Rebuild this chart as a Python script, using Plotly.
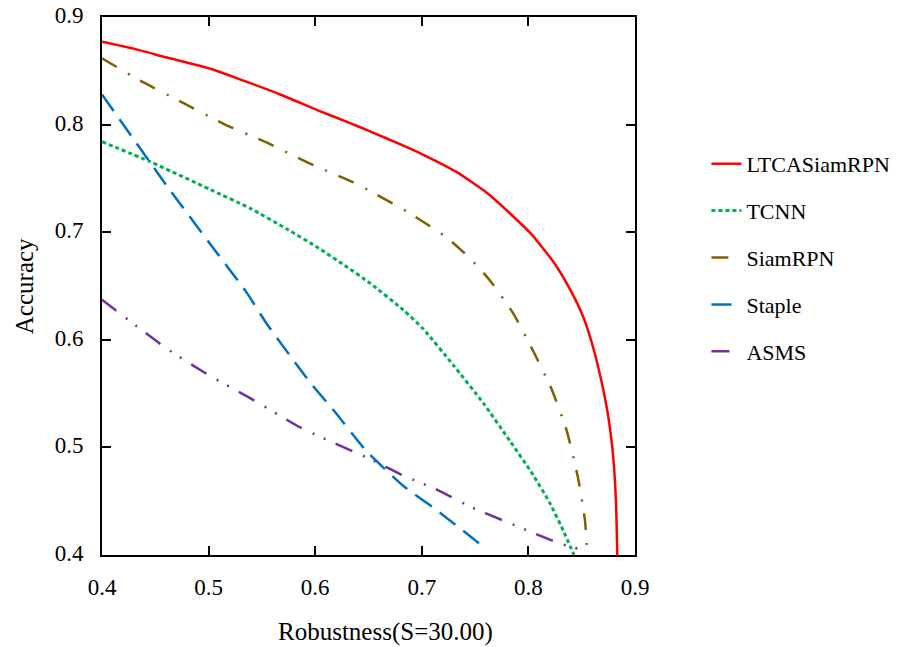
import plotly.graph_objects as go

# Data
ltca_x = [0.4000, 0.4296, 0.4609, 0.5009, 0.5328, 0.5672, 0.6031, 0.6328, 0.6515, 0.6828, 0.7015, 0.7328,
          0.7610, 0.7828, 0.8028, 0.8234, 0.8391, 0.8515, 0.8609, 0.8688, 0.8750, 0.8797, 0.8822, 0.8834]
ltca_y = [0.8771, 0.8706, 0.8623, 0.8521, 0.8408, 0.8280, 0.8130, 0.8014, 0.7937, 0.7804, 0.7719, 0.7558,
          0.7366, 0.7174, 0.6982, 0.6725, 0.6469, 0.6212, 0.5924, 0.5603, 0.5282, 0.4897, 0.4480, 0.4000]

tcnn_x = [0.4000, 0.4453, 0.5009, 0.5390, 0.5734, 0.6031, 0.6297, 0.6515, 0.6828, 0.7015, 0.7297,
          0.7578, 0.7828, 0.8028, 0.8203, 0.8328, 0.8428]
tcnn_y = [0.7841, 0.7655, 0.7399, 0.7222, 0.7030, 0.6853, 0.6677, 0.6526, 0.6276, 0.6099, 0.5763,
          0.5410, 0.5058, 0.4769, 0.4480, 0.4224, 0.4000]

siam_x = [0.4000, 0.4359, 0.4765, 0.5140, 0.5547, 0.5984, 0.6359, 0.6546, 0.6891, 0.7235, 0.7453,
          0.7641, 0.7859, 0.8047, 0.8219, 0.8360, 0.8468, 0.8531, 0.8553]
siam_y = [0.8616, 0.8408, 0.8200, 0.8007, 0.7832, 0.7623, 0.7463, 0.7366, 0.7174, 0.6949, 0.6757,
          0.6549, 0.6244, 0.5891, 0.5539, 0.5154, 0.4705, 0.4320, 0.4000]

staple_x = [0.4000, 0.4609, 0.5009, 0.5359, 0.5547, 0.5953, 0.6171, 0.6485, 0.6828, 0.7141, 0.7594]
staple_y = [0.8280, 0.7430, 0.6898, 0.6436, 0.6147, 0.5603, 0.5347, 0.4961, 0.4641, 0.4416, 0.4064]

asms_x = [0.4000, 0.4609, 0.5009, 0.5390, 0.5859, 0.6359, 0.6515, 0.6828, 0.7141, 0.7453, 0.7765,
          0.8078, 0.8328, 0.8553]
asms_y = [0.6372, 0.5917, 0.5667, 0.5458, 0.5186, 0.4961, 0.4892, 0.4738, 0.4608, 0.4449, 0.4320,
          0.4192, 0.4096, 0.4037]

tick_vals = [0.4, 0.5, 0.6, 0.7, 0.8, 0.9]
tick_text = ["0.4", "0.5", "0.6", "0.7", "0.8", "0.9"]

series = [
    ("LTCASiamRPN", ltca_x, ltca_y, "#ff0000", "solid", 2.5),
    ("TCNN", tcnn_x, tcnn_y, "#00b050", "4px,3px", 3),
    ("SiamRPN", siam_x, siam_y, "#7f6000", "17px,13px,2px,12px", 2.5),
    ("Staple", staple_x, staple_y, "#0070c0", "20px,10px", 2.5),
    ("ASMS", asms_x, asms_y, "#7030a0", "18px,12px,2px,10px,2px,11px", 2.5),
]

FONT = "Liberation Serif, Times New Roman, serif"

fig = go.Figure()
for i, (name, xs, ys, col, dash, w) in enumerate(series):
    fig.add_trace(go.Scatter(x=xs, y=ys, mode="lines", name=name, legendgroup=str(i),
                             line=dict(color=col, dash=dash, width=w, shape="spline", smoothing=0.5)))

axis_common = dict(
    range=[0.4, 0.9], tickvals=tick_vals, ticktext=tick_text, automargin=False,
    showgrid=False, zeroline=False, showline=True, linecolor="black", linewidth=2,
    mirror="allticks", ticks="inside", ticklen=9, tickwidth=2, tickcolor="black",
    tickfont=dict(family=FONT, size=23, color="black"), ticklabeloverflow="allow",
)

fig.update_layout(
    template="none",
    width=924, height=647,
    margin=dict(l=102, r=289, t=17, b=92),
    paper_bgcolor="white", plot_bgcolor="white",
    font=dict(family=FONT, color="black"),
    xaxis=dict(**axis_common, ticklabelstandoff=10),
    yaxis=dict(**axis_common, ticklabelstandoff=12, ticklabelshift=-2),
    showlegend=True,
    legend=dict(x=1.134, y=0.766, xanchor="left", yanchor="top",
                font=dict(family=FONT, size=22, color="black"),
                tracegroupgap=15.3, bgcolor="rgba(0,0,0,0)", borderwidth=0),
    annotations=[
        dict(text="Robustness(S=30.00)", xref="paper", yref="paper", x=0.531, y=-0.143,
             xanchor="center", yanchor="middle", showarrow=False,
             font=dict(family=FONT, size=25, color="black")),
        dict(text="Accuracy", xref="paper", yref="paper", x=-0.146, y=0.5,
             xanchor="center", yanchor="middle", showarrow=False, textangle=-90,
             font=dict(family=FONT, size=25, color="black")),
    ],
)

fig.write_html("out.html", config={"displayModeBar": False},
               post_script="document.body.style.margin='0px';")
